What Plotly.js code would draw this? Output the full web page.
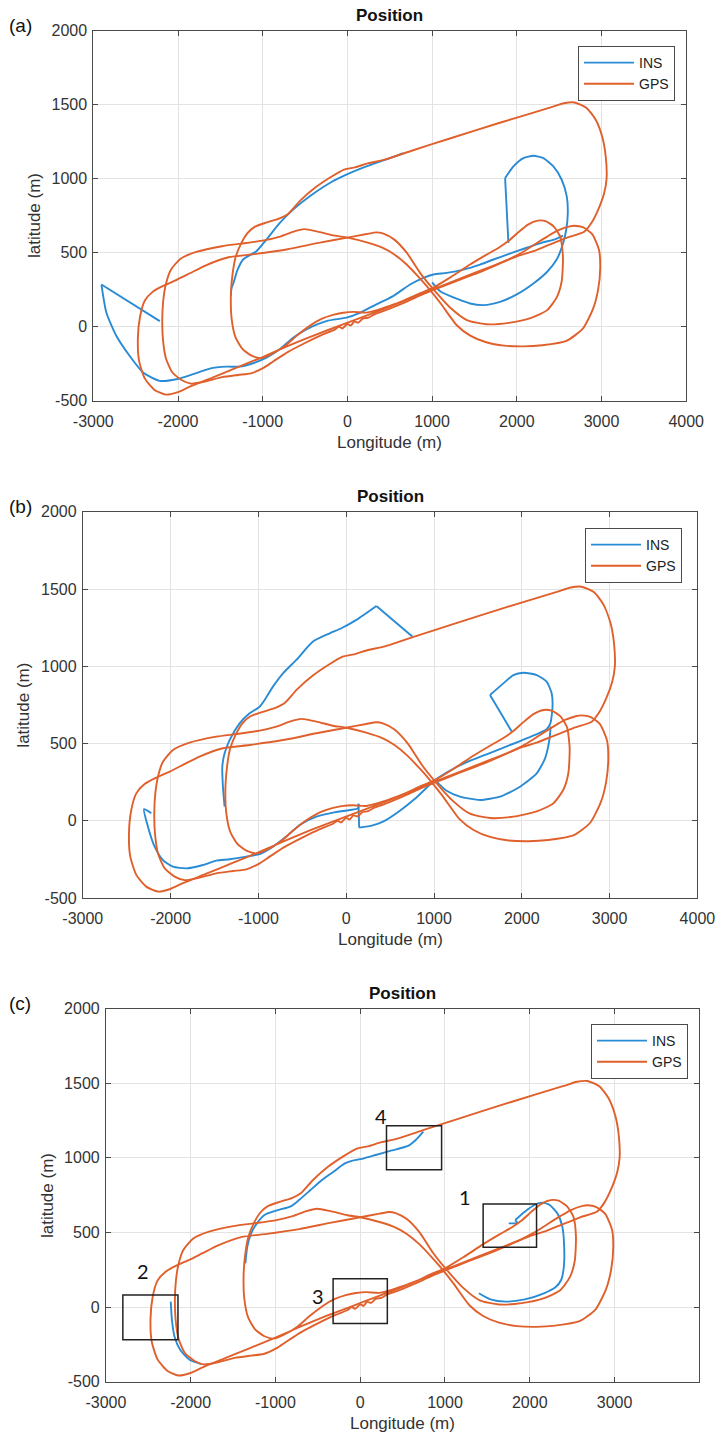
<!DOCTYPE html>
<html>
<head>
<meta charset="utf-8">
<script src="https://cdn.plot.ly/plotly-3.0.1.min.js"></script>
<style>
  html, body { margin: 0; padding: 0; background: #ffffff; }
  #chart { width: 717px; height: 1435px; }
</style>
</head>
<body>
<div id="chart"></div>
<script>
// ---- GPS reference track (identical in all three runs), metres ----
// Two closed drives, separated by null.
const gpsLon = [
  2557, 2400, 1800, 1200, 750, 430, 250, 90, -40, -200, -380, -560, -700, -800, -950, -1090, -1180, -1260, -1320, -1355, -1375, -1368, -1322, -1240, -1130, -1020,
  -900, -750, -600, -450, -300, -170, -50, 70, 224, 350, 500,
  650, 841, 1011, 1220, 1448, 1638, 1790, 1904, 2018, 2132, 2246,
  2340, 2440, 2515, 2545, 2530, 2473, 2359, 2170, 1904, 1638, 1410, 1212, 1016, 858, 700, 550, 418,
  342, 228, 0, -340, -720, -1100, -1404, -1670, -1860, -2011, -2182, -2296, -2391, -2448, -2474, -2459, -2391, -2277, -2144,
  -2011, -1860, -1600, -1300, -1000, -700, -400, -100, 200, 500, 800, 1000, 1300, 1600, 1828, 2018, 2170, 2359, 2587, 2796,
  2880, 2960, 3030, 3060, 3050, 3010, 2930, 2820, 2680, 2557,
  null,
  -1840, -1670, -1480, -1290, -1138, -986, -872, -700, -500, -300, -150, -100, -60, 0, 40, 80, 130, 180, 250, 320, 400, 500, 700, 900, 1000, 1300, 1600, 1904, 2056, 2207, 2359, 2492, 2625,
  2680, 2780, 2890, 2970, 2985, 2960, 2900, 2777, 2587, 2300, 2078, 1850, 1638, 1450, 1291, 1095, 937, 850, 700, 550, 418,
  228, 2, -150, -340, -511, -644, -796, -986, -1252, -1480, -1784, -1973, -2087, -2144, -2174, -2186, -2178, -2144, -2068, -1954, -1840
];
const gpsLat = [
  1510, 1482, 1378, 1270, 1187, 1127, 1105, 1077, 1062, 1010, 940, 850, 762, 732, 705, 676, 632, 556, 470, 360, 226, 60, -70, -150, -196, -212,
  -186, -136, -62, 4, 54, 80, 94, 100, 95, 112, 140,
  172, 222, 263, 335, 420, 485, 535, 580, 638, 690, 717,
  713, 675, 605, 470, 307, 200, 112, 60, 26, 17, 45, 130, 252, 364, 500, 590, 630,
  637, 626, 602, 566, 522, 490, 469, 415, 361, 318, 274, 237, 177, 69, -82, -233, -351, -427, -459,
  -444, -405, -345, -275, -205, -130, -60, 5, 70, 135, 205, 250, 318, 385, 436, 479, 505, 548, 600, 641,
  700, 790, 900, 1000, 1150, 1280, 1400, 1480, 1515, 1510,
  null,
  -385, -369, -341, -326, -315, -276, -233, -170, -110, -55, -20, 0, -12, 18, 8, 34, 28, 54, 62, 84, 100, 122, 170, 222, 245, 312, 378, 455, 500, 555, 609, 652, 678,
  682, 672, 625, 520, 400, 250, 120, -15, -95, -125, -133, -128, -105, -60, 10, 162, 274, 330, 420, 490, 533,
  570, 602, 615, 641, 659, 641, 609, 583, 561, 544, 505, 458, 382, 285, 177, 48, -82, -211, -308, -362, -385
];

// ---- INS solution, run (a) ----
const insLonA = [
  -2215, -2904, null,
  -2904, -2845, -2727, -2570, -2412, -2215, -2019, -1822, -1625, -1428, -1271, -1114, -956, -799, -641, -484, -248, -12, 146, 342, 539, 740, 898, 1016, 1173, 1370, 1567, 1725, 1900, 2100, 2300, 2450, 2545, null,
  1000, 1095, 1291, 1448, 1606, 1803, 2000, 2196, 2353, 2471, 2545, 2585, 2602, 2590, 2530, 2432, 2314, 2196, 2078, 1960, 1862, null,
  1862, 1881, 1901, null,
  -1375, -1369, -1342, -1300, -1231, -1074, -956, -798, -641, -444, -208, -12, 224, 536, 660
];
const insLatA = [
  38, 285, null,
  285, 94, -63, -198, -310, -366, -355, -321, -283, -270, -270, -247, -209, -153, -74, -18, 38, 61, 94, 151, 207, 285, 330, 353, 364, 386, 420, 454, 490, 530, 568, 590, 615, null,
  300, 240, 189, 157, 146, 168, 218, 292, 368, 454, 560, 660, 769, 881, 993, 1083, 1139, 1155, 1139, 1083, 1004, null,
  1004, 791, 566, null,
  210, 260, 300, 380, 454, 510, 589, 701, 791, 881, 971, 1027, 1083, 1146, 1172
];

// ---- INS solution, run (b) ----
const insLonB = [
  -2220, -2303, -2258, -2182, -2087, -1973, -1821, -1631, -1480, -1328, -1138, -986, -834, -682, -530, -340, -150, 39, 134, 140, null,
  140, 148, null,
  148, 300, 419, 600, 800, 1011, 1200, 1400, 1600, 1800, 1980, 2150, 2280, 2325,
  2350, 2340, 2283, 2170, 2018, 1904, 1790, 1638, null,
  1638, 1885, null,
  1011, 1144, 1296, 1524, 1752, 1980, 2170, 2265, 2314, 2329, null,
  -1385, -1404, -1411, -1385, -1328, -1214, -1100, -986, -929, -834, -720, -568, -378, -188, -55, 116, 344, null,
  344, 753
];
const insLatB = [
  48, 74, -39, -168, -255, -298, -309, -287, -259, -250, -233, -216, -168, -103, -28, 26, 52, 69, 80, 110, null,
  110, -45, null,
  -45, -30, -6, 60, 150, 263, 330, 385, 430, 475, 515, 555, 590, 630,
  738, 825, 900, 943, 958, 943, 889, 814, null,
  814, 577, null,
  263, 194, 156, 134, 156, 220, 307, 404, 523, 609, null,
  91, 220, 350, 436, 522, 630, 695, 738, 782, 868, 954, 1041, 1160, 1213, 1246, 1300, 1390, null,
  1390, 1192
];

// ---- INS solution, run (c) ----
const insLonC = [
  -2235, -2221, -2190, -2122, -2009, -1874, null,
  -1355, -1332, -1287, -1219, -1129, -993, -813, -722, -587, -452, -316, -181, -90, 45, 181, 361, 564, 655, 745, null,
  1752, 1860, null,
  1860, 1829, null,
  1829, 1941, 2054, 2145, 2235, 2325, 2384, 2406, 2402, 2370, 2303, 2167, 1941, 1716, 1535, 1400
];
const insLatC = [
  36, -87, -199, -288, -355, -382, null,
  293, 405, 494, 561, 617, 646, 677, 717, 784, 852, 907, 963, 981, 997, 1019, 1048, 1080, 1120, 1176, null,
  561, 561, null,
  561, 583, null,
  583, 639, 684, 700, 684, 628, 539, 405, 270, 181, 132, 92, 51, 36, 51, 92
];

// ---- Regions marked on run (c) ----
const boxLabels = ['1', '2', '3', '4'];
const boxLonMin = [1450, -2800, -320, 310];
const boxLonMax = [2080, -2150, 320, 960];
const boxLatMin = [400, -220, -110, 920];
const boxLatMax = [690, 80, 190, 1215];
const labelLon = [1240, -2560, -500, 240];
const labelLat = [740, 240, 75, 1280];

// ---- Axes ----
const xTickVals = [-3000, -2000, -1000, 0, 1000, 2000, 3000, 4000];
const xTickText = ['-3000', '-2000', '-1000', '0', '1000', '2000', '3000', '4000'];
const yTickVals = [-500, 0, 500, 1000, 1500, 2000];
const yTickText = ['-500', '0', '500', '1000', '1500', '2000'];
const panelTags = ['(a)', '(b)', '(c)'];

const W = 717, H = 1435;
const px = v => v / W;
const py = v => 1 - v / H;

const insColor = '#2a8bd5';
const gpsColor = '#e0602c';
const axisColor = '#4a4a4a';
const textColor = '#333333';
const font = 'Liberation Sans, Arial, sans-serif';

// plot boxes in page pixels: [left, right, top, bottom]
const boxesPx = [
  [93.3, 686.2, 30.7, 400.7],
  [82.8, 697.4, 511.8, 897.9],
  [105.9, 699.3, 1008.7, 1381.6]
];

const insSets = [[insLonA, insLatA], [insLonB, insLatB], [insLonC, insLatC]];
const legendPx = [[578, 46], [585, 528], [591, 1024]];

const data = [];
const layout = {
  width: W, height: H,
  margin: {l: 0, r: 0, t: 0, b: 0},
  paper_bgcolor: '#ffffff',
  plot_bgcolor: '#ffffff',
  font: {family: font, color: textColor, size: 16},
  showlegend: true,
  annotations: [],
  shapes: []
};

boxesPx.forEach((b, i) => {
  const n = i + 1;
  const xa = n === 1 ? 'x' : 'x' + n;
  const ya = n === 1 ? 'y' : 'y' + n;
  const lg = n === 1 ? 'legend' : 'legend' + n;

  data.push({
    x: insSets[i][0], y: insSets[i][1], xaxis: xa, yaxis: ya,
    type: 'scatter', mode: 'lines', name: 'INS', legend: lg,
    line: {color: insColor, width: 1.9, shape: 'spline', smoothing: 0.6},
    connectgaps: false, hoverinfo: 'skip'
  });
  data.push({
    x: gpsLon, y: gpsLat, xaxis: xa, yaxis: ya,
    type: 'scatter', mode: 'lines', name: 'GPS', legend: lg,
    line: {color: gpsColor, width: 1.9, shape: 'spline', smoothing: 0.6},
    connectgaps: false, hoverinfo: 'skip'
  });

  const axBase = {
    showline: true, linecolor: axisColor, linewidth: 1, mirror: 'ticks',
    ticks: 'inside', ticklen: 5, tickcolor: axisColor, tickwidth: 1,
    showgrid: true, gridcolor: '#e3e3e3', gridwidth: 1,
    zeroline: false, fixedrange: true,
    tickfont: {family: font, size: 16, color: textColor}
  };
  layout[n === 1 ? 'xaxis' : 'xaxis' + n] = Object.assign({}, axBase, {
    domain: [px(b[0]), px(b[1])], anchor: ya,
    range: [-3000, 4000], tickmode: 'array', tickvals: xTickVals, ticktext: xTickText,
    ticklabelstandoff: 6
  });
  layout[n === 1 ? 'yaxis' : 'yaxis' + n] = Object.assign({}, axBase, {
    domain: [py(b[3]), py(b[2])], anchor: xa,
    range: [-500, 2000], tickmode: 'array', tickvals: yTickVals, ticktext: yTickText,
    ticklabelstandoff: 2
  });

  layout[lg] = {
    x: px(legendPx[i][0]), y: py(legendPx[i][1]), xanchor: 'left', yanchor: 'top',
    bgcolor: '#ffffff', bordercolor: axisColor, borderwidth: 1,
    font: {family: font, size: 14, color: '#222222'},
    itemwidth: 50, tracegroupgap: 0
  };

  const cx = (b[0] + b[1]) / 2;
  const cy = (b[2] + b[3]) / 2;
  // title
  layout.annotations.push({
    xref: 'paper', yref: 'paper', x: px(cx), y: py(b[2] - 15.5),
    text: '<b>Position</b>', showarrow: false, xanchor: 'center', yanchor: 'middle',
    font: {family: font, size: 17, color: '#111111'}
  });
  // x label
  layout.annotations.push({
    xref: 'paper', yref: 'paper', x: px(cx), y: py(b[3] + 42),
    text: 'Longitude (m)', showarrow: false, xanchor: 'center', yanchor: 'middle',
    font: {family: font, size: 17, color: textColor}
  });
  // y label
  layout.annotations.push({
    xref: 'paper', yref: 'paper', x: px(b[0] - 59), y: py(cy),
    text: 'latitude (m)', showarrow: false, xanchor: 'center', yanchor: 'middle', textangle: -90,
    font: {family: font, size: 17, color: textColor}
  });
  // panel tag
  layout.annotations.push({
    xref: 'paper', yref: 'paper', x: px(20), y: py(b[2] - 5),
    text: panelTags[i], showarrow: false, xanchor: 'center', yanchor: 'middle',
    font: {family: font, size: 19, color: '#111111'}
  });
});

// marked regions on run (c)
boxLabels.forEach((t, k) => {
  layout.shapes.push({
    type: 'rect', xref: 'x3', yref: 'y3',
    x0: boxLonMin[k], x1: boxLonMax[k], y0: boxLatMin[k], y1: boxLatMax[k],
    line: {color: '#222222', width: 1.5}, fillcolor: 'rgba(0,0,0,0)'
  });
  layout.annotations.push({
    xref: 'x3', yref: 'y3', x: labelLon[k], y: labelLat[k], text: t, showarrow: false,
    xanchor: 'center', yanchor: 'middle',
    font: {family: 'Lato, Carlito, Liberation Sans, sans-serif', size: 20, color: '#111111'}
  });
});

Plotly.newPlot('chart', data, layout, {staticPlot: true, displayModeBar: false});
</script>
</body>
</html>
